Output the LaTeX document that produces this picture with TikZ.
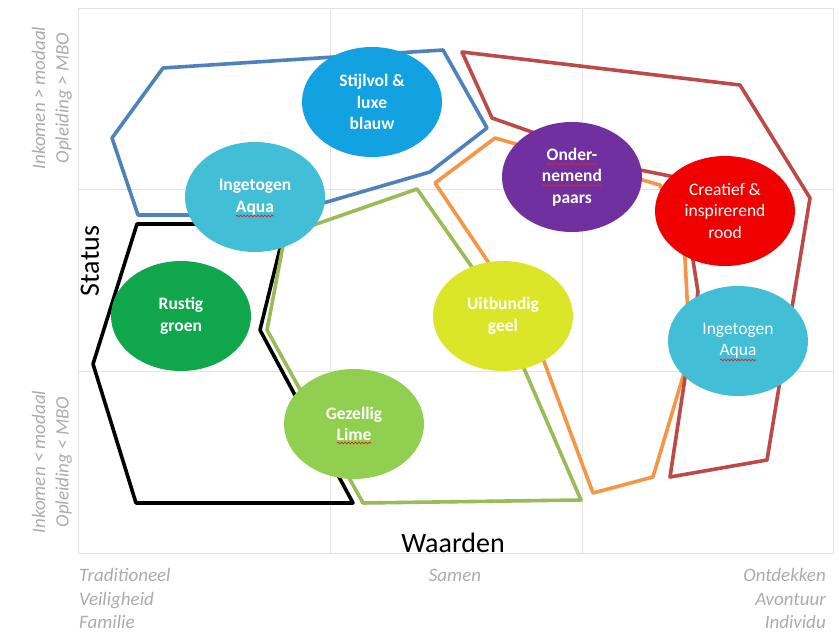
\documentclass[tikz,border=0pt]{standalone}
\usepackage{fontspec}
\setmainfont{Carlito}
\usetikzlibrary{shapes.geometric,calc,decorations.pathmorphing}

% outline colours
\definecolor{lineblue}{RGB}{79,129,189}
\definecolor{linered}{RGB}{188,74,72}
\definecolor{lineorange}{RGB}{245,150,70}
\definecolor{linegreen}{RGB}{155,187,89}
\definecolor{gridgray}{RGB}{228,228,228}
\definecolor{labelgray}{RGB}{172,172,172}
% ellipse fills
\definecolor{fillblauw}{RGB}{18,162,226}
\definecolor{fillaqua}{RGB}{66,190,214}
\definecolor{fillgroen}{RGB}{16,166,76}
\definecolor{filllime}{RGB}{145,207,80}
\definecolor{fillgeel}{RGB}{220,230,40}
\definecolor{fillpaars}{RGB}{112,48,160}
\definecolor{fillrood}{RGB}{240,0,0}
\definecolor{spellred}{RGB}{215,40,40}

\tikzset{
  gridline/.style={draw=gridgray, line width=0.8pt},
  zone/.style={line width=3.6pt, line join=round},
  blob/.style={ellipse, minimum width=140pt, minimum height=110pt, inner sep=0pt,
    align=center, text=white, font=\fontsize{17.5}{21.5}\selectfont\bfseries},
  blobthin/.style={blob, font=\fontsize{17.5}{21.5}\selectfont},
  spell/.style={draw=spellred, line width=0.7pt,
    decorate, decoration={snake, amplitude=0.9pt, segment length=3.5pt}},
  axislabel/.style={font=\fontsize{28}{32}\selectfont, text=black, inner sep=0pt},
  sidelabel/.style={font=\fontsize{19}{23.5}\selectfont\itshape, text=labelgray, inner sep=0pt},
}

\begin{document}
\begin{tikzpicture}[x=1pt, y=-1pt]
\useasboundingbox (0,0) rectangle (839,634);
\fill[white] (0,0) rectangle (839,634);

% 3x3 grid
\draw[gridline] (78,8) rectangle (833,553);
\foreach \gx in {330,582} \draw[gridline] (\gx,8) -- (\gx,553);
\foreach \gy in {189,371} \draw[gridline] (78,\gy) -- (833,\gy);

% zones
\draw[zone, lineblue] (163,68) -- (443,50) -- (487,128) -- (430,172) -- (282,215) -- (138,215) -- (112,138) -- cycle;
\draw[zone, black] (137,224) -- (286,224) -- (260,330) -- (353,503) -- (136,503) -- (93,364) -- cycle;
\draw[zone, linegreen] (417,189) -- (493,297) -- (581,500) -- (363,503) -- (267,330) -- (285,235) -- cycle;
\draw[zone, lineorange] (495,138) -- (435,183) -- (530,324) -- (593,493) -- (653,477) -- (690,353) -- (684,240) -- (660,185) -- cycle;
\draw[zone, linered] (462,52) -- (740,85) -- (810,198) -- (767,460) -- (670,477) -- (698,292) -- (680,178) -- (640,170) -- (492,118) -- cycle;

% colour ellipses
\node[blob, fill=fillblauw] (blauw) at (372,102) {Stijlvol \&\\luxe\\blauw};
\node[blob, fill=fillaqua] (aquaL) at (255,197) {Ingetogen\\Aqua};
\node[blob, fill=fillgroen] (groen) at (181,316) {Rustig\\groen};
\node[blob, fill=filllime] (lime) at (354,424) {Gezellig\\Lime};
\node[blob, fill=fillgeel] (geel) at (503,316) {Uitbundig\\geel};
\node[blob, fill=fillpaars] (paars) at (572,177) {Onder-\\nemend\\paars};
\node[blobthin, fill=fillrood] (rood) at (725,211) {Creatief \&\\inspirerend\\rood};
\node[blobthin, fill=fillaqua] (aquaR) at (738,341) {Ingetogen\\Aqua};

% spelling squiggles under flagged words
\draw[spell] ($(aquaL)+(-19,19)$) -- ($(aquaL)+(19,19)$);
\draw[spell] ($(aquaR)+(-18,19)$) -- ($(aquaR)+(18,19)$);
\draw[spell] ($(lime)+(-17,19)$) -- ($(lime)+(17,19)$);
\draw[spell] ($(paars)+(-26,-13)$) -- ($(paars)+(26,-13)$);
\draw[spell] ($(paars)+(-30,8.5)$) -- ($(paars)+(30,8.5)$);

% axes
\node[axislabel, rotate=90] (status) at (90,261) {Status};
\node[axislabel, anchor=base] (waarden) at (453,552) {Waarden};

% side labels
\node[sidelabel, rotate=90, align=center] (hoog) at (52,98) {Inkomen > modaal\\Opleiding > MBO};
\node[sidelabel, rotate=90, align=center] (laag) at (52,462) {Inkomen < modaal\\Opleiding < MBO};
\node[sidelabel, anchor=base west] (trad) at (79,581) {Traditioneel};
\node[sidelabel, anchor=base west] (veil) at (79,605) {Veiligheid};
\node[sidelabel, anchor=base west] (fam) at (79,628) {Familie};
\node[sidelabel, anchor=base] (samen) at (455,581) {Samen};
\node[sidelabel, anchor=base east] (ontd) at (826,581) {Ontdekken};
\node[sidelabel, anchor=base east] (avon) at (826,605) {Avontuur};
\node[sidelabel, anchor=base east] (indi) at (826,628) {Individu};
\end{tikzpicture}
\end{document}
